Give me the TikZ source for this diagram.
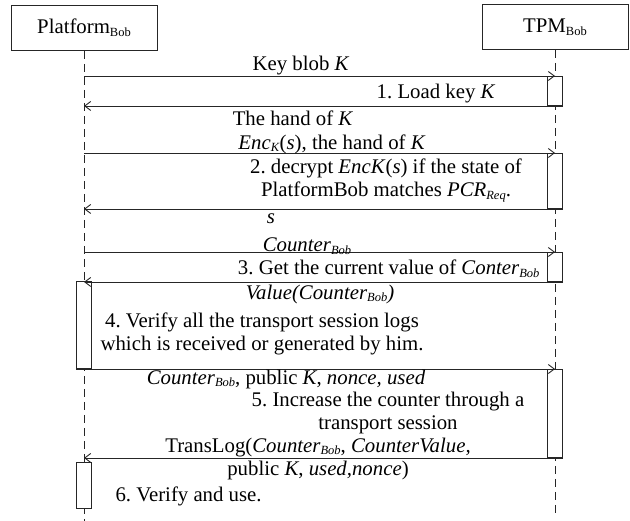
\documentclass[tikz,border=0pt]{standalone}
\usepackage{fontspec}
\setmainfont{Liberation Serif}
\usetikzlibrary{arrows.meta,positioning}

\newcommand{\lowtxt}[1]{\raisebox{-0.3ex}{\fontsize{12.5}{13}\selectfont #1}}
\newcommand{\itlow}[1]{\raisebox{-0.3ex}{\fontsize{12.5}{13}\selectfont\textit{#1}}}
\frenchspacing

\begin{document}
\begin{tikzpicture}[x=1pt,y=-1pt,>={Straight Barb[length=6pt,width=9pt]},
  every node/.style={font=\fontsize{20.8}{23}\selectfont},
  actor/.style={draw=black!85,line width=1pt,minimum width=146pt,minimum height=45pt},
  act/.style={draw=black!85,fill=white,line width=1pt,minimum width=15pt,inner sep=0pt,anchor=north},
  msg/.style={->,draw=black!85,line width=0.9pt},
  life/.style={draw=black!85,line width=1pt,dash pattern=on 8pt off 5pt}]
\useasboundingbox (0,0) rectangle (630,521);

      \node[actor] (plat) at (84,28) {Platform\lowtxt{Bob}};
      \node[actor] (tpm) at (555,27) {TPM\lowtxt{Bob}};
      \coordinate (platend) at (84,521);
      \coordinate (tpmend) at (555,515);
      \draw[life] (plat.south) -- (platend);
      \draw[life] (tpm.south) -- (tpmend);

      \node[act,minimum height=29pt] (t1) at (555,76) {};
      \node[act,minimum height=55pt] (t2) at (555,153) {};
      \node[act,minimum height=29pt] (t3) at (555,252) {};
      \node[act,minimum height=87pt] (p4) at (84,281) {};
      \node[act,minimum height=88pt] (t5) at (555,369) {};
      \node[act,minimum height=46pt] (p6) at (84,462) {};

      \draw[msg] (t1.north -| plat) -- (t1.north);
      \draw[msg] (t1.south east) -- (t1.south -| plat);
      \draw[msg] (t2.north -| plat) -- (t2.north);
      \draw[msg] (t2.south east) -- (t2.south -| plat);
      \draw[msg] (t3.north -| plat) -- (t3.north);
      \draw[msg] (t3.south east) -- (t3.south -| plat);
      \draw[msg] (p4.south west) -- (p4.south -| tpm);
      \draw[msg] (t5.south east) -- (t5.south -| plat);

      \node (m1) at (301,66) {Key blob \textit{K}};
      \node[anchor=east] (s1) at (499,94) {1. Load key \textit{K}};
      \node (m2) at (293,118) {The hand of \textit{K}};
      \node (m3) at (332,144) {\textit{Enc}\itlow{K}(\textit{s}), the hand of \textit{K}};
      \node[align=center] (s2) at (386,180.5) {2. decrypt \textit{EncK}(\textit{s}) if the state of\\PlatformBob matches \textit{PCR}\itlow{Req}.};
      \node (m4) at (271,219) {\textit{s}};
      \node (m5) at (307,246) {\textit{Counter}\itlow{Bob}};
      \node[anchor=east] (s3) at (543,269) {3. Get the current value of \textit{Conter}\itlow{Bob}};
      \node (m6) at (320,294) {\textit{Value(Counter}\itlow{Bob}\textit{)}};
      \node[align=center] (s4) at (262,334) {4. Verify all the transport session logs\\which is received or generated by him.};
      \node (m7) at (286,379) {\textit{Counter}\itlow{Bob}, public \textit{K}, \textit{nonce, used}};
      \node[align=center] (s5) at (388,412.5) {5. Increase the counter through a\\transport session};
      \node[align=center] (m8) at (318,458.5) {TransLog(\textit{Counter}\itlow{Bob}, \textit{CounterValue,}\\public \textit{K}, \textit{used,nonce})};
      \node[anchor=west] (s6) at (112,496) {6. Verify and use.};

    \end{tikzpicture}
\end{document}
